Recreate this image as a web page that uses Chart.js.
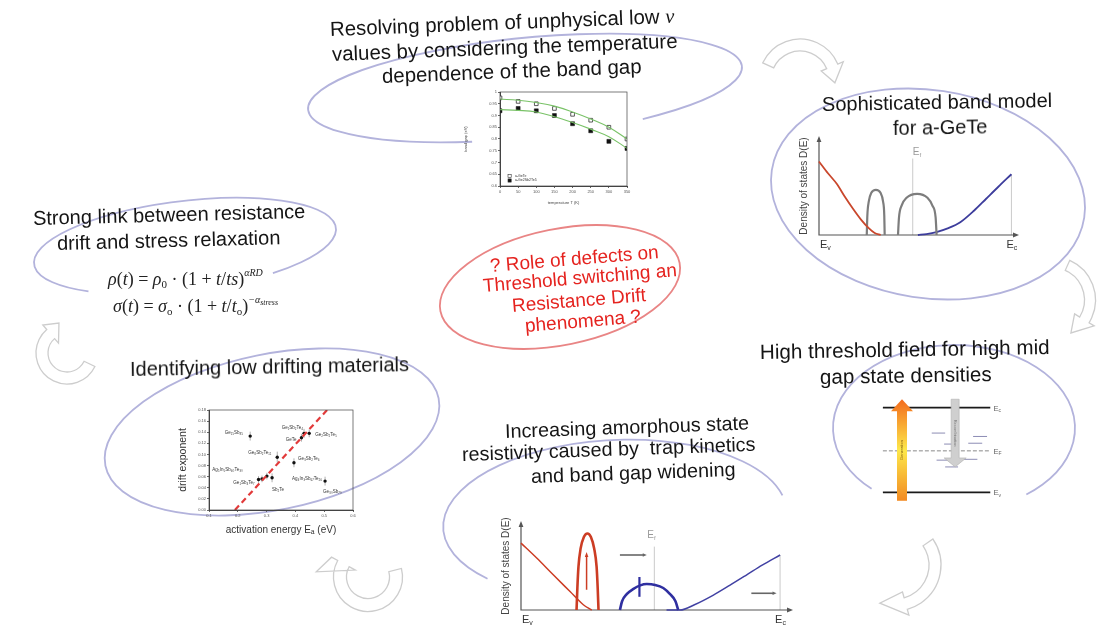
<!DOCTYPE html>
<html>
<head>
<meta charset="utf-8">
<script src="https://cdn.jsdelivr.net/npm/chart.js@4.4.1/dist/chart.umd.min.js"></script>
<style>
    html, body { margin: 0; padding: 0; background: #fff; }
    #page { position: relative; width: 1100px; height: 629px; overflow: hidden; font-family: "Liberation Sans", Arial, sans-serif; }
    .cv { position: absolute; }
    .t { position: absolute; white-space: pre; color: #151515; line-height: 1; transform-origin: 0 50%; }
    .red { color: #e5231f; }
    .nu { font-family: "Liberation Serif", serif; font-style: italic; }
    .f { position: absolute; white-space: pre; font-family: "Liberation Serif", serif; font-size: 18px; line-height: 1; color: #222; }
    .f i { font-style: italic; }
    .f sup { font-size: 10px; font-style: italic; vertical-align: 9px; }
    .f sub { font-size: 11px; vertical-align: -3px; }
</style>
</head>
<body>
<div id="page">
    <div class="cv" style="left:0;top:0;width:1100px;height:629px"><canvas id="bgChart"></canvas></div>
    <div class="cv" style="left:462px;top:86px;width:170px;height:120px"><canvas id="gapChart"></canvas></div>
    <div class="cv" style="left:795px;top:130px;width:230px;height:125px"><canvas id="bandChart"></canvas></div>
    <div class="cv" style="left:175px;top:400px;width:185px;height:140px"><canvas id="driftChart"></canvas></div>
    <div class="cv" style="left:485px;top:515px;width:315px;height:114px"><canvas id="trapChart"></canvas></div>
    <div class="cv" style="left:870px;top:395px;width:160px;height:110px"><canvas id="levelChart"></canvas></div>

    <!-- top -->
    <div class="t" style="left:330px;top:19px;font-size:20.4px;transform:rotate(-2.2deg)">Resolving problem of unphysical low <span class="nu">ν</span></div>
    <div class="t" style="left:332px;top:44px;font-size:20.4px;transform:rotate(-2.2deg)">values by considering the temperature</div>
    <div class="t" style="left:382px;top:66px;font-size:20.4px;transform:rotate(-2.2deg)">dependence of the band gap</div>

    <!-- band model -->
    <div class="t" style="left:822px;top:94px;font-size:20px;transform:rotate(-1deg)">Sophisticated band model</div>
    <div class="t" style="left:893px;top:118px;font-size:20px;transform:rotate(-1deg)">for a-GeTe</div>

    <!-- stress relaxation -->
    <div class="t" style="left:33px;top:208px;font-size:20px;transform:rotate(-1.5deg)">Strong link between resistance</div>
    <div class="t" style="left:57px;top:233px;font-size:20px;transform:rotate(-1.5deg)">drift and stress relaxation</div>
    <div class="f" style="left:108px;top:268px"><i>ρ</i>(<i>t</i>) = <i>ρ</i><sub>0</sub> · (1 + <i>t</i>/<i>ts</i>)<sup>αRD</sup></div>
    <div class="f" style="left:113px;top:295px"><i>σ</i>(<i>t</i>) = <i>σ</i><sub>o</sub> · (1 + <i>t</i>/<i>t</i><sub>o</sub>)<sup>−α<sub style="font-size:8px;vertical-align:-2px">stress</sub></sup></div>

    <!-- centre question -->
    <div class="t red" style="left:490px;top:256px;font-size:19px;transform:rotate(-4.7deg)">? Role of defects on</div>
    <div class="t red" style="left:483px;top:276px;font-size:19px;transform:rotate(-4.7deg)">Threshold switching an</div>
    <div class="t red" style="left:512px;top:296px;font-size:19px;transform:rotate(-4.7deg)">Resistance Drift</div>
    <div class="t red" style="left:525px;top:316px;font-size:19px;transform:rotate(-4.7deg)">phenomena ?</div>

    <!-- low drift -->
    <div class="t" style="left:130px;top:359px;font-size:20px;transform:rotate(-1deg)">Identifying low drifting materials</div>

    <!-- trap kinetics -->
    <div class="t" style="left:505px;top:422px;font-size:19.8px;transform:rotate(-2deg)">Increasing amorphous state</div>
    <div class="t" style="left:462px;top:445px;font-size:19.8px;transform:rotate(-2deg)">resistivity caused by  trap kinetics</div>
    <div class="t" style="left:531px;top:467px;font-size:19.8px;transform:rotate(-2deg)">and band gap widening</div>

    <!-- threshold field -->
    <div class="t" style="left:760px;top:342px;font-size:20.6px;transform:rotate(-1deg)">High threshold field for high mid</div>
    <div class="t" style="left:820px;top:367px;font-size:20.6px;transform:rotate(-1deg)">gap state densities</div>
</div>

<script>
    'use strict';

    // ---- band gap vs temperature ----
    const tempK = [0, 50, 100, 150, 200, 250, 300, 350];
    const gapGeTe = [0.975, 0.96, 0.95, 0.93, 0.905, 0.88, 0.85, 0.80];
    const gapGST = [0.92, 0.93, 0.92, 0.90, 0.865, 0.835, 0.79, 0.76];
    const fitGeTe = [0.97, 0.965, 0.955, 0.94, 0.915, 0.885, 0.85, 0.80];
    const fitGST = [0.925, 0.922, 0.915, 0.895, 0.87, 0.842, 0.81, 0.76];
    const gapLegend = ['a-GeTe', 'a-Ge2Sb2Te5'];

    // ---- band model of a-GeTe (energy in % of gap, D in a.u.) ----
    const vbE = [0, 4.5, 9, 13, 17, 21, 25, 28, 31];
    const vbD = [75, 63, 52, 39, 27, 16, 7, 2, 0];
    const hump1E = [24, 24.3, 25, 26.3, 28.6, 30.9, 32.2, 32.8, 33];
    const hump1D = [0, 20, 34, 43, 46, 43, 34, 20, 0];
    const hump2E = [39.7, 40.2, 41.5, 44, 49.3, 54.5, 57, 58.6, 59.1];
    const hump2D = [0, 18, 30, 38, 42, 38, 30, 18, 0];
    const cbE = [49.7, 54, 59, 65, 71, 78, 84, 90, 96.7];
    const cbD = [0, 1, 3, 7, 13, 25, 37, 49, 62];
    const bandFermi = 47.1;
    const bandEc = 96.7;

    // ---- drift exponent vs activation energy ----
    const actEnergy = [0.243, 0.337, 0.395, 0.421, 0.43, 0.448, 0.272, 0.284, 0.301, 0.319, 0.503];
    const driftExp = [0.133, 0.095, 0.085, 0.130, 0.138, 0.138, 0.055, 0.056, 0.061, 0.058, 0.052];
    const driftErr = [0.008, 0.010, 0.008, 0.007, 0.008, 0.007, 0.006, 0.006, 0.006, 0.008, 0.008];
    const materials = ['Ge₁₅Sb₈₅', 'Ge₈Sb₂Te₁₁', 'Ge₃Sb₂Te₆', 'GeTe', 'Ge₁Sb₂Te₄', 'Ge₂Sb₂Te₅',
        'Ge₁Sb₄Te₇', 'Sb₂Te', 'Ag₅In₅Sb₆₀Te₃₀', 'Ag₄In₃Sb₆₇Te₂₆', 'Ge₃₀Sb₇₀'];
    const trendEnergy = [0.19, 0.51];
    const trendDrift = [0, 0.18];

    // ---- trap kinetics DOS ----
    const vb2E = [0, 5.8, 11.9, 18.1, 23, 26.1];
    const vb2D = [76, 59, 40, 21, 6, 0];
    const trapE = [20.5, 20.8, 21.2, 22, 23.2, 24.5, 25.8, 27, 27.9, 28.3, 28.6];
    const trapD = [0, 25, 49, 70, 83, 87, 83, 70, 49, 25, 0];
    const defE = [36.5, 37.3, 39, 41.5, 44, 46.4, 49.5, 52.5, 55, 57, 58];
    const defD = [0, 10, 18, 24, 28, 29.5, 28.5, 25, 18, 10, 0];
    const cb2E = [53.7, 58.7, 64, 71, 77, 83.3, 89, 95.6];
    const cb2D = [0, 0, 6, 17, 28, 40, 51, 62.5];
    const trapFermi = 49.2;
    const trapEc = 95.6;

    // ---- energy levels ----
    const levelNames = ['c', 'F', 'v'];
    const levelEnergy = [1, 0.49, 0];
    const trapFrom = [45.5, 84, 57, 79.5, 50, 75, 58];
    const trapTo = [58, 97, 64.5, 92.5, 61, 88, 70];
    const trapLevel = [0.70, 0.66, 0.57, 0.58, 0.38, 0.39, 0.30];

    const FONT = '"Liberation Sans", Arial, sans-serif';
    const xy = (xs, ys) => xs.map((v, i) => ({ x: v, y: ys[i] }));

    const base = {
        animation: false,
        responsive: true,
        maintainAspectRatio: false,
        events: [],
        plugins: { legend: { display: false }, tooltip: { enabled: false } }
    };

    function arrowHead(ctx, x, y, ang, len, half) {
        ctx.beginPath();
        ctx.moveTo(x, y);
        ctx.lineTo(x - len * Math.cos(ang) + half * Math.sin(ang), y - len * Math.sin(ang) - half * Math.cos(ang));
        ctx.lineTo(x - len * Math.cos(ang) - half * Math.sin(ang), y - len * Math.sin(ang) + half * Math.cos(ang));
        ctx.closePath();
        ctx.fill();
    }

    function subText(ctx, main, sub, x, y, size, color) {
        ctx.fillStyle = color;
        ctx.textAlign = 'left';
        ctx.textBaseline = 'alphabetic';
        ctx.font = size + 'px ' + FONT;
        ctx.fillText(main, x, y);
        const w = ctx.measureText(main).width;
        ctx.font = Math.round(size * 0.6) + 'px ' + FONT;
        ctx.fillText(sub, x + w, y + size * 0.2);
    }

    function curvedArrow(ctx, cx, cy, a) {
        const ro = a.r + a.w / 2, ri = a.r - a.w / 2;
        const ccw = a.a1 < a.a0;
        ctx.beginPath();
        ctx.arc(cx, cy, ro, a.a0, a.a1, ccw);
        ctx.lineTo(cx + (ro + a.hw) * Math.cos(a.a1), cy + (ro + a.hw) * Math.sin(a.a1));
        ctx.lineTo(cx + a.tipR * Math.cos(a.tipA), cy + a.tipR * Math.sin(a.tipA));
        ctx.lineTo(cx + (ri - a.hw) * Math.cos(a.a1), cy + (ri - a.hw) * Math.sin(a.a1));
        ctx.lineTo(cx + ri * Math.cos(a.a1), cy + ri * Math.sin(a.a1));
        ctx.arc(cx, cy, ri, a.a1, a.a0, !ccw);
        ctx.closePath();
        ctx.fillStyle = '#fff';
        ctx.fill();
        ctx.strokeStyle = '#cdcdcd';
        ctx.lineWidth = 1.3;
        ctx.stroke();
    }

    // decoration: loops round each topic and turning arrows between them
    const LILAC = '#b3b3dc';
    const TAU = Math.PI * 2;
    const rings = [
        { cx: 525, cy: 88, rx: 218, ry: 50, rot: -0.1, t0: 1.84, t1: 1.02 + TAU, color: LILAC },
        { cx: 928, cy: 194, rx: 158, ry: 104, rot: 0.15, t0: 0, t1: TAU, color: LILAC },
        { cx: 185, cy: 246, rx: 152, ry: 45, rot: -0.12, t0: 2.30, t1: 0.985 + TAU, color: LILAC },
        { cx: 272, cy: 432, rx: 170, ry: 78, rot: -0.2, t0: 0, t1: TAU, color: LILAC },
        { cx: 615, cy: 520, rx: 172, ry: 80, rot: -0.05, t0: 2.43, t1: 6.08, color: LILAC },
        { cx: 954, cy: 428, rx: 121, ry: 83, rot: 0, t0: 2.32, t1: 0.93 + TAU, color: LILAC },
        { cx: 560, cy: 287, rx: 122, ry: 58, rot: -0.2, t0: 0, t1: TAU, color: '#e98585' }
    ];
    const turns = [
        { cx: 800, cy: 80, r: 35, w: 12, hw: 6, a0: -2.71, a1: -0.4, tipA: 0.08, tipR: 35 },
        { cx: 1052, cy: 300, r: 38, w: 11, hw: 6, a0: -1.15, a1: 0.55, tipA: 1.05, tipR: 38 },
        { cx: 895, cy: 565, r: 40, w: 12, hw: 6, a0: -0.6, a1: 1.3, tipA: 1.95, tipR: 41 },
        { cx: 368, cy: 577, r: 28, w: 13, hw: 7, a0: -0.25, a1: 3.64, tipA: 3.24, tipR: 52 },
        { cx: 67, cy: 353, r: 25, w: 12, hw: 6, a0: 0.45, a1: 4.0, tipA: 4.45, tipR: 31 }
    ];

    new Chart(document.getElementById('bgChart'), {
        type: 'scatter',
        data: { datasets: [] },
        options: {
            ...base,
            layout: { padding: 0 },
            scales: {
                x: { type: 'linear', min: 0, max: 1100, display: false },
                y: { type: 'linear', min: 0, max: 629, reverse: true, display: false }
            }
        },
        plugins: [{
            id: 'decor',
            beforeDatasetsDraw(chart) {
                const { ctx, scales: { x, y } } = chart;
                ctx.save();
                rings.forEach(r => {
                    ctx.beginPath();
                    ctx.ellipse(x.getPixelForValue(r.cx), y.getPixelForValue(r.cy), r.rx, r.ry, r.rot, r.t0, r.t1);
                    ctx.strokeStyle = r.color;
                    ctx.lineWidth = 1.8;
                    ctx.stroke();
                });
                turns.forEach(a => curvedArrow(ctx, x.getPixelForValue(a.cx), y.getPixelForValue(a.cy), a));
                ctx.restore();
            }
        }]
    });

    // box round the plot area
    const frame = {
        id: 'frame',
        afterDatasetsDraw(chart) {
            const { ctx, chartArea: a } = chart;
            ctx.save();
            ctx.strokeStyle = '#444';
            ctx.lineWidth = 0.7;
            ctx.strokeRect(a.left, a.top, a.right - a.left, a.bottom - a.top);
            ctx.restore();
        }
    };

    const tinyTicks = { font: { size: 4, family: FONT }, color: '#555', padding: 1, autoSkip: false };
    const tinyGrid = { drawOnChartArea: false, tickLength: 2, color: '#666' };

    // ---- band gap chart ----
    new Chart(document.getElementById('gapChart'), {
        type: 'line',
        data: {
            datasets: [
                { data: xy(tempK, fitGeTe), borderColor: '#79c267', borderWidth: 1.1, pointRadius: 0, tension: 0.4 },
                { data: xy(tempK, fitGST), borderColor: '#79c267', borderWidth: 1.1, pointRadius: 0, tension: 0.4 },
                { data: xy(tempK, gapGeTe), showLine: false, pointStyle: 'rect', pointRadius: 2.6,
                  pointBackgroundColor: '#fff', pointBorderColor: '#333', pointBorderWidth: 0.8 },
                { data: xy(tempK, gapGST), showLine: false, pointStyle: 'rect', pointRadius: 2.8,
                  pointBackgroundColor: '#111', pointBorderColor: '#111', pointBorderWidth: 0.5 }
            ]
        },
        options: {
            ...base,
            layout: { padding: { top: 6, right: 5, left: 0, bottom: 0 } },
            scales: {
                x: {
                    type: 'linear', min: 0, max: 350,
                    ticks: { ...tinyTicks, stepSize: 50 }, grid: tinyGrid, border: { color: '#444' },
                    title: { display: true, text: 'temperature T (K)', font: { size: 4, family: FONT }, color: '#444', padding: 1 },
                    afterFit(s) { s.height = 20; }
                },
                y: {
                    min: 0.6, max: 1,
                    ticks: { ...tinyTicks, stepSize: 0.05, callback: v => +v.toFixed(2) }, grid: tinyGrid, border: { color: '#444' },
                    title: { display: true, text: 'band gap (eV)', font: { size: 4, family: FONT }, color: '#444', padding: 1 },
                    afterFit(s) { s.width = 38; }
                }
            }
        },
        plugins: [frame, {
            id: 'gapLegend',
            afterDatasetsDraw(chart) {
                const { ctx, chartArea: a } = chart;
                ctx.save();
                ctx.font = '3.5px ' + FONT;
                ctx.textBaseline = 'middle';
                gapLegend.forEach((name, i) => {
                    const yy = a.bottom - 10 + i * 4.5;
                    ctx.fillStyle = i ? '#111' : '#fff';
                    ctx.strokeStyle = '#333';
                    ctx.lineWidth = 0.6;
                    ctx.fillRect(a.left + 8, yy - 1.6, 3.2, 3.2);
                    ctx.strokeRect(a.left + 8, yy - 1.6, 3.2, 3.2);
                    ctx.fillStyle = '#333';
                    ctx.fillText(name, a.left + 15, yy);
                });
                ctx.restore();
            }
        }]
    });

    // axes with arrow heads and band-edge labels for the DOS sketches
    function dosFrame(cfg) {
        return {
            id: 'dosFrame',
            beforeDatasetsDraw(chart) {
                const { ctx, chartArea: a, scales: { x, y } } = chart;
                ctx.save();
                ctx.strokeStyle = '#bdbdbd';
                ctx.lineWidth = 0.8;
                cfg.guides.forEach(g => {
                    ctx.beginPath();
                    ctx.moveTo(x.getPixelForValue(g.e), y.getPixelForValue(0));
                    ctx.lineTo(x.getPixelForValue(g.e), y.getPixelForValue(g.top));
                    ctx.stroke();
                });
                ctx.strokeStyle = '#555';
                ctx.fillStyle = '#555';
                ctx.lineWidth = 1.2;
                ctx.beginPath();
                ctx.moveTo(a.left, a.top + 2);
                ctx.lineTo(a.left, a.bottom);
                ctx.lineTo(a.right - 2, a.bottom);
                ctx.stroke();
                arrowHead(ctx, a.left, a.top - 1, -Math.PI / 2, 6, 2.4);
                arrowHead(ctx, a.right + 1, a.bottom, 0, 6, 2.4);

                subText(ctx, 'E', 'v', a.left + 1, a.bottom + 13, 11, '#333');
                subText(ctx, 'E', 'c', x.getPixelForValue(cfg.ec) - 5, a.bottom + 13, 11, '#333');
                subText(ctx, 'E', 'f', x.getPixelForValue(cfg.ef) + cfg.efDx, y.getPixelForValue(cfg.efTop) - 2, 10, '#9a9a9a');

                ctx.translate(a.left - 12, (a.top + a.bottom) / 2);
                ctx.rotate(-Math.PI / 2);
                ctx.fillStyle = '#444';
                ctx.font = '10px ' + FONT;
                ctx.textAlign = 'center';
                ctx.fillText('Density of states D(E)', 0, 0);
                ctx.restore();
            }
        };
    }

    const hiddenScales = {
        x: { type: 'linear', min: 0, max: 100, display: false },
        y: { type: 'linear', min: 0, max: 100, display: false }
    };
    const curve = (pts, color, width) => ({
        data: pts, borderColor: color, borderWidth: width, pointRadius: 0,
        cubicInterpolationMode: 'monotone', clip: false
    });

    // ---- band model ----
    new Chart(document.getElementById('bandChart'), {
        type: 'line',
        data: {
            datasets: [
                curve(xy(vbE, vbD), '#c9472c', 1.8),
                curve(xy(hump1E, hump1D), '#7d7d7d', 2.2),
                curve(xy(hump2E, hump2D), '#7d7d7d', 2.2),
                curve(xy(cbE, cbD), '#3d3d9c', 1.8)
            ]
        },
        options: { ...base, layout: { padding: { left: 24, top: 7, right: 7, bottom: 20 } }, scales: hiddenScales },
        plugins: [dosFrame({
            guides: [{ e: bandFermi, top: 78 }, { e: bandEc, top: 62 }],
            ec: bandEc, ef: bandFermi, efTop: 80, efDx: 0
        })]
    });

    // ---- drift exponent ----
    const labelPos = [
        { dx: -7, dy: -3, align: 'right' }, { dx: -6, dy: -4, align: 'right' }, { dx: 4, dy: -4, align: 'left' },
        { dx: -5, dy: 2, align: 'right' }, { dx: -1, dy: -6, align: 'right' }, { dx: 6, dy: 1, align: 'left' },
        { dx: -4, dy: 3, align: 'right' }, { dx: 10, dy: 11, align: 'left' }, { dx: -24, dy: -6, align: 'right' },
        { dx: 20, dy: 1, align: 'left' }, { dx: -2, dy: 11, align: 'left' }
    ];
    new Chart(document.getElementById('driftChart'), {
        type: 'line',
        data: {
            datasets: [
                { data: xy(trendEnergy, trendDrift), borderColor: '#e23a3a', borderWidth: 2.2, borderDash: [6, 4], pointRadius: 0 },
                { data: xy(actEnergy, driftExp), showLine: false, pointRadius: 1.7, pointBackgroundColor: '#111', pointBorderWidth: 0 }
            ]
        },
        options: {
            ...base,
            layout: { padding: { top: 10, right: 7, left: 0, bottom: 0 } },
            scales: {
                x: {
                    type: 'linear', min: 0.1, max: 0.6,
                    ticks: { ...tinyTicks, stepSize: 0.1, callback: v => +v.toFixed(1) }, grid: tinyGrid, border: { color: '#444' },
                    title: { display: true, text: 'activation energy Eₐ (eV)', font: { size: 10, family: FONT }, color: '#333', padding: { top: 5 } },
                    afterFit(s) { s.height = 30; }
                },
                y: {
                    min: 0, max: 0.18,
                    ticks: { ...tinyTicks, stepSize: 0.02, callback: v => v.toFixed(2) }, grid: tinyGrid, border: { color: '#444' },
                    title: { display: true, text: 'drift exponent', font: { size: 10.5, family: FONT }, color: '#333', padding: 2 },
                    afterFit(s) { s.width = 34; }
                }
            }
        },
        plugins: [frame, {
            id: 'errorBars',
            beforeDatasetsDraw(chart) {
                const { ctx, scales: { x, y } } = chart;
                ctx.save();
                ctx.strokeStyle = '#9a9a9a';
                ctx.lineWidth = 0.8;
                actEnergy.forEach((e, i) => {
                    const px = x.getPixelForValue(e);
                    ctx.beginPath();
                    ctx.moveTo(px, y.getPixelForValue(driftExp[i] - driftErr[i]));
                    ctx.lineTo(px, y.getPixelForValue(driftExp[i] + driftErr[i]));
                    ctx.stroke();
                });
                ctx.fillStyle = '#333';
                ctx.font = '4.5px ' + FONT;
                ctx.textBaseline = 'middle';
                materials.forEach((m, i) => {
                    const p = labelPos[i];
                    ctx.textAlign = p.align;
                    ctx.fillText(m, x.getPixelForValue(actEnergy[i]) + p.dx, y.getPixelForValue(driftExp[i]) + p.dy);
                });
                ctx.restore();
            }
        }]
    });

    // ---- trap kinetics ----
    const trapArrow = { e: 24.2, from: 23, to: 66 };
    const shifts = [{ from: 36.5, to: 46.4, d: 62.5 }, { from: 85, to: 94.3, d: 19 }];
    const tickMark = { e: 43.7, from: 15, to: 37.5 };
    new Chart(document.getElementById('trapChart'), {
        type: 'line',
        data: {
            datasets: [
                curve(xy(vb2E, vb2D), '#cc3d24', 1.5),
                curve(xy(trapE, trapD), '#cc3d24', 2.6),
                curve(xy(defE, defD), '#2f2fa0', 2.6),
                curve(xy(cb2E, cb2D), '#4141a3', 1.5)
            ]
        },
        options: { ...base, layout: { padding: { left: 36, top: 7, right: 8, bottom: 19 } }, scales: hiddenScales },
        plugins: [dosFrame({
            guides: [{ e: trapFermi, top: 72 }, { e: trapEc, top: 62.5 }],
            ec: trapEc, ef: trapFermi, efTop: 80, efDx: -7
        }), {
            id: 'trapMarks',
            afterDatasetsDraw(chart) {
                const { ctx, scales: { x, y } } = chart;
                ctx.save();
                // trap filling arrow
                ctx.strokeStyle = '#cc3d24';
                ctx.fillStyle = '#cc3d24';
                ctx.lineWidth = 1.5;
                const ax = x.getPixelForValue(trapArrow.e);
                ctx.beginPath();
                ctx.moveTo(ax, y.getPixelForValue(trapArrow.from));
                ctx.lineTo(ax, y.getPixelForValue(trapArrow.to) + 4);
                ctx.stroke();
                arrowHead(ctx, ax, y.getPixelForValue(trapArrow.to), -Math.PI / 2, 5, 1.8);
                // defect level marker
                ctx.strokeStyle = '#2f2fa0';
                ctx.lineWidth = 2.2;
                ctx.beginPath();
                ctx.moveTo(x.getPixelForValue(tickMark.e), y.getPixelForValue(tickMark.from));
                ctx.lineTo(x.getPixelForValue(tickMark.e), y.getPixelForValue(tickMark.to));
                ctx.stroke();
                // band shifts
                ctx.strokeStyle = '#666';
                ctx.fillStyle = '#666';
                ctx.lineWidth = 1.6;
                shifts.forEach(s => {
                    const yy = y.getPixelForValue(s.d);
                    ctx.beginPath();
                    ctx.moveTo(x.getPixelForValue(s.from), yy);
                    ctx.lineTo(x.getPixelForValue(s.to) - 3, yy);
                    ctx.stroke();
                    arrowHead(ctx, x.getPixelForValue(s.to), yy, 0, 4, 1.8);
                });
                ctx.restore();
            }
        }]
    });

    // ---- energy level scheme ----
    const genArrow = { x: 17.8, from: -0.1, to: 1.1 };
    const recArrow = { x: 67.3, from: 1.1, to: 0.3 };
    const levelSets = levelEnergy.map((e, i) => ({
        data: [{ x: 0, y: e }, { x: 100, y: e }],
        borderColor: i === 1 ? '#8a8a8a' : '#1a1a1a',
        borderWidth: i === 1 ? 1 : 1.8,
        borderDash: i === 1 ? [4, 2] : [],
        pointRadius: 0
    }));
    const trapPts = [];
    trapLevel.forEach((e, i) => {
        trapPts.push({ x: trapFrom[i], y: e }, { x: trapTo[i], y: e }, { x: trapTo[i], y: null });
    });
    new Chart(document.getElementById('levelChart'), {
        type: 'line',
        data: {
            datasets: [
                ...levelSets,
                { data: trapPts, borderColor: '#8c8cb4', borderWidth: 1, pointRadius: 0, spanGaps: false }
            ]
        },
        options: {
            ...base,
            layout: { padding: 0 },
            scales: {
                x: { type: 'linear', min: -12, max: 137, display: false },
                y: { type: 'linear', min: -0.15, max: 1.15, display: false }
            }
        },
        plugins: [{
            id: 'transitions',
            afterDatasetsDraw(chart) {
                const { ctx, scales: { x, y } } = chart;
                ctx.save();
                // generation arrow (orange gradient)
                const gx = x.getPixelForValue(genArrow.x);
                const gy0 = y.getPixelForValue(genArrow.from), gy1 = y.getPixelForValue(genArrow.to);
                const grad = ctx.createLinearGradient(0, gy1, 0, gy0);
                grad.addColorStop(0, '#f36a1c');
                grad.addColorStop(0.5, '#fde84a');
                grad.addColorStop(1, '#f28a22');
                ctx.fillStyle = grad;
                ctx.fillRect(gx - 5, gy1 + 11, 10, gy0 - gy1 - 11);
                ctx.beginPath();
                ctx.moveTo(gx, gy1);
                ctx.lineTo(gx + 11, gy1 + 12);
                ctx.lineTo(gx - 11, gy1 + 12);
                ctx.closePath();
                ctx.fill();
                // recombination arrow (grey)
                const rx = x.getPixelForValue(recArrow.x);
                const ry0 = y.getPixelForValue(recArrow.from), ry1 = y.getPixelForValue(recArrow.to);
                ctx.fillStyle = '#cfcfcf';
                ctx.strokeStyle = '#b0b0b0';
                ctx.lineWidth = 0.6;
                ctx.beginPath();
                ctx.moveTo(rx - 4, ry0);
                ctx.lineTo(rx + 4, ry0);
                ctx.lineTo(rx + 4, ry1 - 9);
                ctx.lineTo(rx + 11, ry1 - 9);
                ctx.lineTo(rx, ry1);
                ctx.lineTo(rx - 11, ry1 - 9);
                ctx.lineTo(rx - 4, ry1 - 9);
                ctx.closePath();
                ctx.fill();
                ctx.stroke();
                // tiny captions inside the arrows
                ctx.font = '4px ' + FONT;
                ctx.textAlign = 'center';
                ctx.textBaseline = 'middle';
                ctx.fillStyle = '#7a5a10';
                ctx.save();
                ctx.translate(gx, (gy0 + gy1) / 2);
                ctx.rotate(-Math.PI / 2);
                ctx.fillText('Generation', 0, 0);
                ctx.restore();
                ctx.fillStyle = '#777';
                ctx.translate(rx, (ry0 + ry1) / 2);
                ctx.rotate(Math.PI / 2);
                ctx.fillText('Recombination', 0, 0);
                ctx.restore();
                // level names
                levelNames.forEach((n, i) => {
                    subText(ctx, 'E', n, x.getPixelForValue(103), y.getPixelForValue(levelEnergy[i]) + 3, 7.5, '#666');
                });
            }
        }]
    });
</script>
</body>
</html>
